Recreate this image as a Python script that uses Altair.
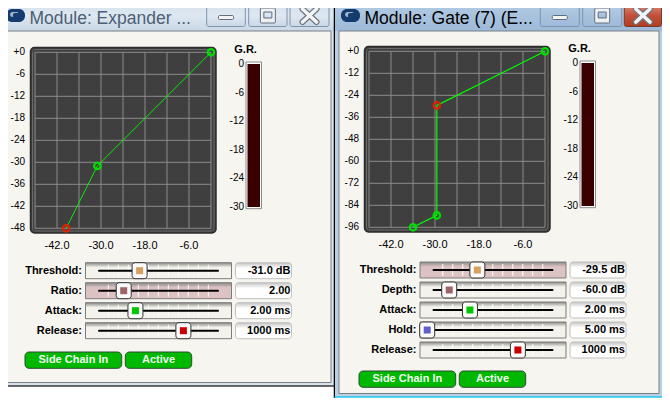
import altair as alt
import pandas as pd

# ---------- values ----------
x_ticks = [-42.0, -30.0, -18.0, -6.0]
x_tick_labels = ["-42.0", "-30.0", "-18.0", "-6.0"]
grid_x = [-48, -42, -36, -30, -24, -18, -12, -6, 0]

exp_grid_y = [0, -6, -12, -18, -24, -30, -36, -42, -48]
exp_y_labels = ["+0", "-6", "-12", "-18", "-24", "-30", "-36", "-42", "-48"]
exp_in = [-39.5, -31.0, 0.0]
exp_out = [-48.0, -31.0, 0.0]
exp_dot = ["red", "green", "green"]

gate_grid_y = [0, -12, -24, -36, -48, -60, -72, -84, -96]
gate_y_labels = ["+0", "-12", "-24", "-36", "-48", "-60", "-72", "-84", "-96"]
gate_in = [-36.0, -29.5, -29.5, 0.0]
gate_out = [-96.0, -89.5, -29.5, 0.0]
gate_dot = ["green", "green", "red", "green"]

gr_ticks = [0, -6, -12, -18, -24, -30]

exp_rows = ["Threshold:", "Ratio:", "Attack:", "Release:"]
exp_vals = ["-31.0 dB", "2.00", "2.00 ms", "1000 ms"]
exp_pos = [0.36, 0.238, 0.328, 0.696]
exp_hot = [False, True, False, False]
exp_thumb = ["#d8a060", "#a06468", "#00c800", "#c80000"]

gate_rows = ["Threshold:", "Depth:", "Attack:", "Hold:", "Release:"]
gate_vals = ["-29.5 dB", "-60.0 dB", "2.00 ms", "5.00 ms", "1000 ms"]
gate_pos = [0.385, 0.169, 0.328, 0.0, 0.696]
gate_hot = [True, False, False, False, False]
gate_thumb = ["#d8a060", "#a06468", "#00c800", "#6060d0", "#c80000"]

slider_ticks = list(range(11))
buttons = ["Side Chain In", "Active"]

SANS = "Liberation Sans"
layers = []


def grad(*stops):
    n = len(stops)
    st = []
    for i, s in enumerate(stops):
        if isinstance(s, tuple):
            st.append(alt.GradientStop(color=s[0], offset=s[1]))
        else:
            st.append(alt.GradientStop(color=s, offset=i / (n - 1)))
    return alt.Gradient(gradient="linear", stops=st, x1=0, x2=0, y1=0, y2=1)


def box(x0, y0, x1, y1, fill, stroke=None, sw=1, r=0):
    kw = dict(fill=fill)
    if stroke:
        kw.update(stroke=stroke, strokeWidth=sw)
    else:
        kw.update(strokeWidth=0)
    if r:
        kw.update(cornerRadius=r)
    layers.append(
        alt.Chart().mark_rect(**kw).encode(
            x=alt.value(x0 - 8), x2=alt.value(x1 - 8),
            y=alt.value(y0 - 8), y2=alt.value(y1 - 8))
    )


def seg(x0, y0, x1, y1, color, sw=1):
    layers.append(
        alt.Chart().mark_rule(color=color, strokeWidth=sw, strokeCap="round").encode(
            x=alt.value(x0 - 8), x2=alt.value(x1 - 8),
            y=alt.value(y0 - 8), y2=alt.value(y1 - 8))
    )


def label(x, y, s, size=11, weight="normal", color="#000000", align="left", font=SANS):
    layers.append(
        alt.Chart().mark_text(text=s, fontSize=size, fontWeight=weight, color=color,
                              align=align, baseline="middle", font=font).encode(
            x=alt.value(x - 8), y=alt.value(y - 8))
    )


def window(ox, oy, w, h, title, title_color, bar, frame, edge, caps, close):
    # frame and title bar
    box(ox, 0, ox + w, oy + h, frame)
    box(ox, 0, ox + w, 30 + oy + 1, bar)
    box(ox + 4, oy + 31, ox + w - 3, oy + h - 3.5, "#f7f5f0", "#7a7f85", 1)
    seg(ox, oy + h, ox + w, oy + h, edge, 1.5)
    # icon
    box(ox + 6, 9 + oy, ox + 25, 22 + oy, "#143c6e", r=6)
    box(ox + 10, 12 + oy, ox + 19, 17 + oy, "#9fb4cc", r=2.5)
    box(ox + 13, 13 + oy, ox + 20, 18 + oy, "#143c6e", r=2)
    label(ox + 29.5, 18.5 + oy, title, size=17.5, color=title_color, font=SANS)
    # caption buttons
    (a, b), (c, d), (e, f) = caps
    yt, yb = 4.5 + oy, 26 + oy + 0.5
    box(ox + a, yt, ox + b, yb, bar, "#7f93aa", 1, 2)
    box(ox + c, yt, ox + d, yb, bar, "#7f93aa", 1, 2)
    box(ox + e, yt, ox + f, yb, close, "#7f93aa" if close == bar else "#7a3a2a", 1, 2)
    mid1 = (a + b) / 2
    box(ox + mid1 - 7.5, 15.5 + oy, ox + mid1 + 7.5, 19.5 + oy, "#f4f4f4", "#5f6f80", 1, 1)
    mid2 = (c + d) / 2
    box(ox + mid2 - 7.5, 8 + oy, ox + mid2 + 7.5, 23 + oy, "#f0f0f0", "#5f6f80", 1, 1)
    box(ox + mid2 - 4, 12 + oy, ox + mid2 + 4, 18 + oy, bar, "#5f6f80", 1)
    mid3 = (e + f) / 2
    for col, sw in (("#6b7480", 6), ("#f4f4f4", 3.6)):
        seg(ox + mid3 - 7, 9 + oy, ox + mid3 + 7, 22 + oy, col, sw)
        seg(ox + mid3 + 7, 9 + oy, ox + mid3 - 7, 22 + oy, col, sw)


def plot(ox, oy, grid_y, y_labels, xs, ys, dots, line_w):
    L, R, T, B = ox + 35 - 8, ox + 211 - 8, oy + 52.3 - 8, oy + 228.3 - 8
    xscale = alt.Scale(domain=[-48, 0], range=[L, R], nice=False, zero=False)
    yscale = alt.Scale(domain=[min(grid_y), 0], range=[B, T], nice=False, zero=False)
    X = alt.X("x:Q", scale=xscale, axis=None)
    Y = alt.Y("y:Q", scale=yscale, axis=None)
    # bezel
    box(ox + 30.5, oy + 47.5, ox + 216, oy + 233, "#3f3f3f", "#2c2c2c", 1.5, 4)
    box(ox + 32.5, oy + 49.5, ox + 214, oy + 231, "#3f3f3f", "#6a6a6a", 1, 3)
    # grid from the scale
    gx = pd.DataFrame({"x": grid_x})
    gy = pd.DataFrame({"y": grid_y})
    layers.append(alt.Chart(gx).mark_rule(color="#8c8c8c", strokeWidth=1).encode(
        x=X, y=alt.value(T), y2=alt.value(B)))
    layers.append(alt.Chart(gy).mark_rule(color="#8c8c8c", strokeWidth=1).encode(
        y=Y, x=alt.value(L), x2=alt.value(R)))
    # tick labels
    tx = pd.DataFrame({"x": x_ticks, "t": x_tick_labels})
    layers.append(alt.Chart(tx).mark_text(fontSize=11, font=SANS, baseline="middle", align="center").encode(
        x=alt.X("x:Q", scale=xscale, axis=None), text="t:N", y=alt.value(oy + 246 - 8)))
    ty = pd.DataFrame({"y": grid_y, "t": y_labels})
    layers.append(alt.Chart(ty).mark_text(fontSize=10, font=SANS, baseline="middle", align="right").encode(
        y=alt.Y("y:Q", scale=yscale, axis=None), text="t:N", x=alt.value(ox + 25 - 8)))
    # curve
    df = pd.DataFrame({"x": xs, "y": ys, "k": dots, "o": list(range(len(xs)))})
    layers.append(alt.Chart(df).mark_line(color="#00ff00", strokeWidth=line_w).encode(
        x=X, y=Y, order="o:Q"))
    for kind, col in (("green", "#00e000"), ("red", "#e02000")):
        sub = df[df["k"] == kind]
        layers.append(alt.Chart(sub).mark_point(size=42, filled=False, stroke=col, strokeWidth=2.2,
                                                 opacity=1).encode(x=X, y=Y))
    # G.R. meter
    label(ox + 245.6, oy + 50, "G.R.", size=11, weight="bold", align="center")
    box(ox + 246, oy + 62, ox + 261.5, oy + 208.7, "#ffffff", "#8a8a8a", 1)
    box(ox + 247.5, oy + 64, ox + 260, oy + 207, "#3a0000")
    gr = pd.DataFrame({"y": gr_ticks, "t": [str(v) for v in gr_ticks]})
    grs = alt.Scale(domain=[-30, 0], range=[oy + 206.7 - 8, oy + 64.3 - 8], nice=False, zero=False)
    layers.append(alt.Chart(gr).mark_text(fontSize=10, font=SANS, baseline="middle", align="right").encode(
        y=alt.Y("y:Q", scale=grs, axis=None), text="t:N", x=alt.value(ox + 244 - 8)))


def sliders(ox, y0, rows, vals, pos, hot, colors):
    n = len(rows)
    idx = list(range(n))
    ys = alt.Scale(domain=[0, n - 1], range=[y0 - 8, y0 + 20 * (n - 1) - 8], nice=False, zero=False)
    xs = alt.Scale(domain=[0, 1], range=[ox + 92.7 - 8, ox + 223 - 8], nice=False, zero=False)
    ts = alt.Scale(domain=[0, 10], range=[ox + 108.3 - 8, ox + 208.3 - 8], nice=False, zero=False)
    df = pd.DataFrame({"i": idx, "row": rows, "val": vals, "pos": pos, "c": rows})
    Y = alt.Y("i:Q", scale=ys, axis=None)
    for i in idx:
        yc = y0 + 20 * i
        bg = "#dcc2c2" if hot[i] else "#f3f2ec"
        box(ox + 85.5, yc - 8, ox + 231.5, yc + 8, grad(("#8a8a88", 0), (bg, 0.3), (bg, 1)), "#7c7c7c", 1)
        box(ox + 235.5, yc - 8, ox + 291.5, yc + 8, grad(("#c4c4c4", 0), ("#ffffff", 0.35), ("#ffffff", 1)),
            "#c0c0c0", 1, 3)
        tk = pd.DataFrame({"t": slider_ticks})
        layers.append(alt.Chart(tk).mark_rule(color="#ffffff", strokeWidth=1).encode(
            x=alt.X("t:Q", scale=ts, axis=None), y=alt.value(yc - 6 - 8), y2=alt.value(yc + 6 - 8)))
        seg(ox + 99, yc, ox + 218, yc, "#000000", 2)
    layers.append(alt.Chart(df).mark_text(fontSize=11, fontWeight="bold", font=SANS, align="right",
                                          baseline="middle").encode(
        y=Y, text="row:N", x=alt.value(ox + 82 - 8)))
    layers.append(alt.Chart(df).mark_text(fontSize=11, fontWeight="bold", font=SANS, align="right",
                                          baseline="middle").encode(
        y=Y, text="val:N", x=alt.value(ox + 290.5 - 8)))
    X = alt.X("pos:Q", scale=xs, axis=None)
    layers.append(alt.Chart(df).mark_rect(width=15, height=16, fill="#fbfbfb", stroke="#333333",
                                           strokeWidth=1, cornerRadius=3).encode(x=X, y=Y))
    layers.append(alt.Chart(df).mark_rect(width=7, height=7, strokeWidth=0).encode(
        x=X, y=Y,
        color=alt.Color("row:N", scale=alt.Scale(domain=rows, range=colors), legend=None)))


def btns(ox, yt, yb):
    for s, a, b in ((buttons[0], 25, 121.7), (buttons[1], 125.3, 191.7)):
        box(ox + a, yt, ox + b, yb, "#00b800", "#2c4a30", 1, 4)
        label(ox + (a + b) / 2, (yt + yb) / 2, s, size=11, weight="bold", color="#f0fff0", align="center")


# ---------- left window ----------
window(0, 0, 334, 386, "Module: Expander ...", "#4c5f74",
       grad("#d3dfeb", "#dfe8f1", "#c9d7e6"), "#d8e3ee", "#3a3a3a",
       ((206.7, 245.3), (248.7, 287), (290, 329)), grad("#d3dfeb", "#dfe8f1", "#c9d7e6"))
plot(0, 0, exp_grid_y, exp_y_labels, exp_in, exp_out, exp_dot, 0.9)
sliders(0, 270.7, exp_rows, exp_vals, exp_pos, exp_hot, exp_thumb)
btns(0, 352, 368.3)

# ---------- right window ----------
seg(334.5, 0, 334.5, 406, "#000000", 1.5)
window(335, 0, 327, 397, "Module: Gate (7) (E...", "#000000",
       grad("#b5cde6", "#a9c3de", "#9dbad9"), "#b9cfe4", "#22c8e8",
       ((205.3, 244.3), (247.7, 286.7), (289.3, 326.5)), grad("#dc8a76", "#c4503a", "#b03c22"))
plot(334, -1, gate_grid_y, gate_y_labels, gate_in, gate_out, gate_dot, 1.2)
sliders(334.5, 270, gate_rows, gate_vals, gate_pos, gate_hot, gate_thumb)
btns(334, 371, 387.3)

chart = alt.layer(*layers).resolve_scale(x="independent", y="independent", color="independent").properties(
    width=654, height=390, padding=0, background="#ffffff",
    autosize=alt.AutoSizeParams(type="none", contains="content"),
).configure_view(stroke=None)

chart.save("out.html", embed_options={"renderer": "svg", "actions": False})
